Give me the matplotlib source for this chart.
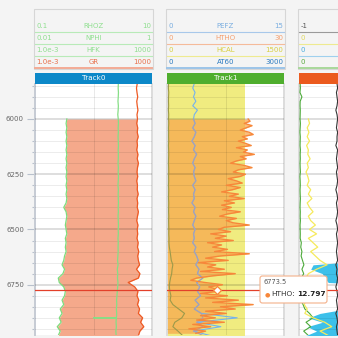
import numpy as np
import matplotlib
matplotlib.use("Agg")
import matplotlib.pyplot as plt
from matplotlib.patches import Rectangle, FancyBboxPatch
from matplotlib.lines import Line2D
from matplotlib.ticker import MultipleLocator, FixedLocator

# ---------------- data ----------------
depth20 = np.arange(5840, 6981, 20)           # 58 samples
depth_nphi = np.arange(6000, 6981, 20)        # 50 samples
depth_htho = np.arange(6000, 6971, 10)        # 98 samples
depth_cyan = np.arange(6600, 6981, 20)        # 20 samples
depth_hcal = [5840, 6980]

gr = [175, 160, 170, 185, 165, 175, 190, 170,
      180, 165, 185, 175, 195, 170, 180, 165, 190, 175,
      200, 180, 170, 185, 165, 180, 175, 195, 170, 185,
      175, 200, 180, 165, 190, 175, 185, 170, 195, 180,
      210, 185, 200, 230, 160, 240, 200, 60, 130, 190,
      170, 210, 180, 230, 200, 330, 260, 380, 240, 200]

nphi = [0.035, 0.034, 0.035, 0.034, 0.035, 0.034, 0.035, 0.034, 0.035, 0.034,
        0.035, 0.034, 0.035, 0.034, 0.035, 0.034, 0.035, 0.034, 0.035, 0.034,
        0.031, 0.034, 0.035, 0.034, 0.033, 0.034, 0.035, 0.033, 0.034, 0.033,
        0.034, 0.032, 0.031, 0.029, 0.032, 0.030, 0.025, 0.026, 0.031, 0.033,
        0.032, 0.029, 0.031, 0.027, 0.029, 0.026, 0.028, 0.024, 0.027, 0.025]

rhoz_depth = [5840, 5860, 5880, 5900, 5920, 5940, 5960, 5980,
              6000, 6020, 6040, 6060, 6080, 6100, 6120, 6140, 6160, 6180,
              6200, 6220, 6240, 6260, 6280, 6300, 6320, 6340, 6360, 6380,
              6400, 6420, 6440, 6460, 6480, 6500, 6520, 6540, 6560, 6580,
              6600, 6620, 6640, 6660, 6680, 6700, 6720, 6740, 6760, 6780,
              6800, 6820, 6840, 6860, 6880, 6899, 6900, 6901,
              6920, 6940, 6960, 6980]
rhoz = [2.66, 2.64, 2.67, 2.65, 2.62, 2.66, 2.64, 2.60,
        2.65, 2.67, 2.64, 2.66, 2.63, 2.65, 2.67, 2.64, 2.66, 2.65,
        2.63, 2.66, 2.64, 2.67, 2.65, 2.62, 2.66, 2.64, 2.65, 2.67,
        2.64, 2.66, 2.63, 2.65, 2.67, 2.64, 2.66, 2.62, 2.65, 2.63,
        2.64, 2.61, 2.58, 2.63, 2.55, 2.60, 2.57, 2.62, 2.59, 2.55,
        2.52, 2.48, 2.50, 2.46, 2.49, 2.47, 1.0, 2.45,
        2.43, 2.46, 2.41, 2.44]

htho = [20.8, 21.3, 19.8, 21.8, 20.3, 18.8, 21.1, 22.1, 19.3, 20.6,
        18.3, 20.1, 21.6, 17.8, 20.6, 19.6, 22.4, 18.8, 20.3, 17.8,
        16.3, 19.8, 21.8, 18.3, 17.0, 20.1, 18.8, 15.7, 17.8, 19.3,
        15.2, 18.8, 16.8, 14.0, 18.3, 16.0, 19.8, 14.7, 17.3, 14.0,
        16.5, 14.2, 18.8, 15.5, 13.5, 17.8, 15.2, 17.0, 21.1, 14.7,
        13.2, 16.3, 11.2, 15.2, 12.4, 17.0, 10.4, 14.0, 11.7, 15.5,
        12.2, 21.1, 13.7, 9.9, 15.7, 8.1, 12.5, 10.4, 14.7, 8.6,
        17.5, 11.7, 7.6, 6.1, 9.7, 14.2, 10.7, 12.7, 13.0, 8.6,
        15.5, 9.9, 18.3, 11.7, 22.1, 13.7, 17.5, 9.9, 15.2, 8.6,
        12.4, 7.6, 14.7, 6.6, 11.2, 5.6, 9.9, 7.4]

pefz = [3.5, 3.3, 3.6, 3.4, 3.7, 3.3, 3.9, 3.5,
        3.4, 3.6, 3.3, 3.7, 3.5, 3.2, 3.6, 3.4, 3.8, 3.5,
        3.3, 3.6, 3.4, 3.5, 3.7, 3.3, 3.6, 3.4, 3.5, 3.2,
        3.6, 3.4, 3.7, 3.5, 3.3, 3.6, 3.4, 3.5, 3.3, 3.7,
        3.5, 3.8, 4.0, 3.7, 4.1, 3.9, 4.6, 3.8, 4.2, 3.9,
        4.3, 3.6, 4.1, 3.5, 4.4, 9.0, 3.8, 6.9, 3.4, 5.5]

hcal = [1000, 1000]

at60 = [40, 35, 45, 40, 38, 42, 36, 44,
        40, 45, 38, 42, 40, 44, 37, 42, 45, 40,
        38, 42, 45, 40, 43, 38, 44, 41, 39, 45,
        42, 40, 46, 41, 44, 48, 45, 52, 50, 60,
        80, 95, 110, 150, 130, 120, 90, 70, 60, 75,
        100, 80, 150, 300, 450, 380, 200, 150, 280, 400]

t2_gray = [-0.35, -0.34, -0.36, -0.35, -0.34, -0.35, -0.37, -0.35,
           -0.34, -0.35, -0.36, -0.34, -0.35, -0.35, -0.37, -0.34, -0.35, -0.36,
           -0.35, -0.34, -0.36, -0.35, -0.34, -0.35, -0.37, -0.35, -0.34, -0.36,
           -0.35, -0.34, -0.35, -0.37, -0.35, -0.34, -0.36, -0.35, -0.34, -0.35,
           -0.36, -0.35, -0.34, -0.37, -0.35, -0.36, -0.34, -0.35, -0.37, -0.35,
           -0.34, -0.36, -0.35, -0.34, -0.37, -0.35, -0.34, -0.36, -0.35, -0.34]

t2_yellow = [8, 9, 7, 8.5, 7, 9, 6.5, 8, 7.5, 9.5,
             7, 8, 6, 7.5, 8.5, 7, 10, 8, 11, 7,
             9, 12, 8, 10, 14, 9, 15, 8, 12, 16,
             10, 14, 18, 24, 15, 8, 6, 9, 5, 7,
             5, 6, 4.5, 7, 5, 12, 22, 28, 18, 25]

t2_green = [1.0, 1.2, 0.8, 2.5, 1.0, 0.9, 1.1, 1.0,
            0.9, 1.2, 1.0, 0.8, 1.1, 1.0, 0.9, 1.2, 1.0, 1.1,
            0.9, 1.0, 1.2, 0.8, 1.0, 1.1, 0.9, 1.0, 1.2, 1.0,
            0.9, 1.1, 1.0, 1.2, 0.9, 1.0, 1.1, 1.0, 2.0, 1.5,
            2.5, 1.8, 3.0, 4.2, 2.5, 4.0, 2.0, 1.5, 2.5, 1.5,
            2.0, 1.5, 3.5, 5.0, 9.0, 12.0, 6.0, 10.0, 4.0, 8.0]

t2_cyan = [100, 100, 60, 12, 10, 20, 22, 25, 100, 100,
           100, 100, 70, 40, 18, 8, 20, 7, 15, 6]

depth_ticks = [6000, 6250, 6500, 6750]
track_names = ["Track0", "Track1", "Track2"]
cursor_depth = 6773.5
cursor_value = 12.797

# ---------------- layout helpers ----------------
W = H = 338
fig = plt.figure(figsize=(3.38, 3.38), dpi=100)
fig.patch.set_facecolor('#f4f4f4')
plt.rcParams['font.family'] = ['DejaVu Sans']

TRACK_X = [(35, 152), (167, 284), (299, 416)]
PY0, PY1 = 84, 335
D_TOP, D_BOT = 5841.6, 6977.7


def fxy(x, y):
    return x / W, 1 - y / H


def norm(v, lo, hi, log=False):
    v = np.asarray(v, dtype=float)
    if log:
        return (np.log10(v) - np.log10(lo)) / (np.log10(hi) - np.log10(lo))
    return (v - lo) / (hi - lo)


def make_track(i):
    x0, x1 = TRACK_X[i]
    ax = fig.add_axes([x0 / W, 1 - PY1 / H, (x1 - x0) / W, (PY1 - PY0) / H])
    ax.set_xlim(0, 1)
    ax.set_ylim(D_BOT, D_TOP)
    ax.set_facecolor('white')
    ax.set_xticks([])
    for s in ('top', 'bottom'):
        ax.spines[s].set_visible(False)
    for s in ('left', 'right'):
        ax.spines[s].set_color('#dcdcdc')
        ax.spines[s].set_linewidth(1.4)
    for d in range(5850, 6976, 50):
        if d % 250 == 0:
            ax.axhline(d, color='black', alpha=0.14, lw=1.3, zorder=3)
        else:
            ax.axhline(d, color='black', alpha=0.08, lw=0.7, zorder=3)
    ax.axvline(0.5, color='black', alpha=0.09, lw=0.7, zorder=3)
    ax.axhline(cursor_depth, color='#e3402a', lw=0.9, zorder=6)
    ax.yaxis.set_major_locator(FixedLocator(depth_ticks))
    ax.yaxis.set_minor_locator(MultipleLocator(50))
    if i == 0:
        ax.spines['left'].set_color('#c6cbd4')
        ax.tick_params(axis='y', which='major', length=6, width=0.8,
                       color='#b8c0cc', labelsize=5, labelcolor='#666666', pad=2)
        ax.tick_params(axis='y', which='minor', length=2.5, width=0.8,
                       color='#b8c0cc')
    else:
        ax.tick_params(axis='y', which='both', length=0, labelleft=False)
    return ax


def header(i, rows, bar_color):
    x0, x1 = TRACK_X[i]
    box = Rectangle(fxy(x0 - 1, 69), (x1 - x0 + 1.5) / W, 60 / H,
                    transform=fig.transFigure, fill=False, ec='#d6d6d6', lw=0.8)
    fig.add_artist(box)
    ys = [26, 38, 50, 62]
    ls = [31.5, 43.5, 55.5, 67.5]
    for k, (lo, name, hi, tc, lc) in enumerate(rows):
        fig.text(*fxy(x0 + 1.5, ys[k]), lo, size=5, color=tc, ha='left', va='center')
        if name:
            fig.text(*fxy((x0 + x1) / 2, ys[k]), name, size=5, color=tc,
                     ha='center', va='center')
        if hi:
            fig.text(*fxy(x1 - 1, ys[k]), hi, size=5, color=tc, ha='right', va='center')
        lw = 1.4 if k == 3 else 0.8
        fig.add_artist(Line2D([x0 / W, x1 / W], [1 - ls[k] / H] * 2,
                              color=lc, lw=lw, transform=fig.transFigure))
    bar = Rectangle(fxy(x0, 83.5), (x1 - x0) / W, 10.5 / H,
                    transform=fig.transFigure, fc=bar_color, ec='none')
    fig.add_artist(bar)
    cx = (x0 + x1) / 2
    if cx < W:
        fig.text(*fxy(cx, 78.5), track_names[i], size=5.2, color='white',
                 ha='center', va='center')


# ---------------- Track0 ----------------
ax0 = make_track(0)
gr_n = norm(gr, 1e-3, 1000, log=True)
nphi_n = norm(nphi, 0.01, 1, log=True)
gr_at_nphi = np.interp(depth_nphi, depth20, gr_n)
ax0.fill_betweenx(depth_nphi, nphi_n, gr_at_nphi, color='#f5a98b', lw=0, zorder=1)
ax0.plot(norm(rhoz, 0.1, 10, log=True), rhoz_depth, color='#86de86', lw=0.9, zorder=4)
ax0.plot(nphi_n, depth_nphi, color='#7ddc7d', lw=0.9, zorder=4)
ax0.plot(gr_n, depth20, color='#ee5a24', lw=0.9, zorder=5)
header(0, [("0.1", "RHOZ", "10", '#8fdf8f', '#b8eab8'),
           ("0.01", "NPHI", "1", '#8fdf8f', '#b8eab8'),
           ("1.0e-3", "HFK", "1000", '#8fdf8f', '#b8eab8'),
           ("1.0e-3", "GR", "1000", '#e8704c', '#f3ab95')], '#0c88c8')

# ---------------- Track1 ----------------
ax1 = make_track(1)
hcal_n = norm(hcal, 0, 1500)
htho_n = norm(htho, 0, 30)
ax1.fill_betweenx(depth_hcal, 0, hcal_n, color='#f0ec80', lw=0, zorder=1)
ax1.fill_betweenx(depth_htho, 0, htho_n, color='#f8a64c', alpha=0.72, lw=0, zorder=2)
ax1.plot(norm(at60, 0, 3000), depth20, color='#9c9a4a', lw=0.8, zorder=4)
pefz_n = norm(pefz, 0, 15)
ax1.plot(pefz_n, depth20, color='#74b2ee', lw=0.8, zorder=4)
below = np.asarray(depth20) >= 6000
ax1.plot(np.minimum(pefz_n, norm(4.6, 0, 15))[below], np.asarray(depth20)[below],
         color='#a89fb4', lw=0.8, zorder=4)
ax1.plot(htho_n, depth_htho, color='#f7873a', lw=1.0, zorder=5)
ax1.plot([norm(cursor_value, 0, 30)], [cursor_depth], marker='D', ms=4.5,
         mfc='white', mec='#f7873a', mew=0.9, zorder=7)
header(1, [("0", "PEFZ", "15", '#7aaee0', '#a8c8ea'),
           ("0", "HTHO", "30", '#f4a070', '#f5bb9a'),
           ("0", "HCAL", "1500", '#d8d040', '#eeea90'),
           ("0", "AT60", "3000", '#2a7ac0', '#9cc4e8')], '#4fae2e')

# ---------------- Track2 ----------------
ax2 = make_track(2)
ax2.fill_betweenx(depth_cyan, norm(t2_cyan, 0, 100), 1, color='#3cc0ea', lw=0, zorder=1)
ax2.plot(norm(t2_green, 0, 100), depth20, color='#4caa3a', lw=0.8, zorder=4)
ax2.plot(norm(t2_yellow, 0, 100), depth_nphi, color='#f6ea5c', lw=0.9, zorder=4)
ax2.plot(norm(t2_gray, -1, 1), depth20, color='#333333', lw=0.8, zorder=5)
header(2, [("-1", "", "", '#555555', '#9a9a9a'),
           ("0", "", "", '#e0d860', '#eeea90'),
           ("0", "", "", '#4aaee0', '#9fd0ee'),
           ("0", "", "", '#5aaa40', '#a8d89a')], '#eb5a1e')

# ---------------- tooltip ----------------
tip = FancyBboxPatch(fxy(260, 303), 67 / W, 27 / H,
                     boxstyle="round,pad=0,rounding_size=0.007",
                     transform=fig.transFigure, fc='white', ec='#f3b08a', lw=0.8,
                     zorder=10)
fig.add_artist(tip)
fig.text(*fxy(264, 282.5), f"{cursor_depth}", size=4.8, color='#555555',
         ha='left', va='center', zorder=11)
fig.text(*fxy(264.5, 294.5), "\u25cf", size=4.5, color='#f7873a',
         ha='left', va='center', zorder=11)
fig.text(*fxy(271.5, 294.5), "HTHO:", size=5.3, color='#333333',
         ha='left', va='center', zorder=11)
fig.text(*fxy(297.5, 294.5), f"{cursor_value}", size=5.3, color='#222222',
         weight='bold', ha='left', va='center', zorder=11)

fig.savefig("out.png", dpi=100, facecolor=fig.get_facecolor())
